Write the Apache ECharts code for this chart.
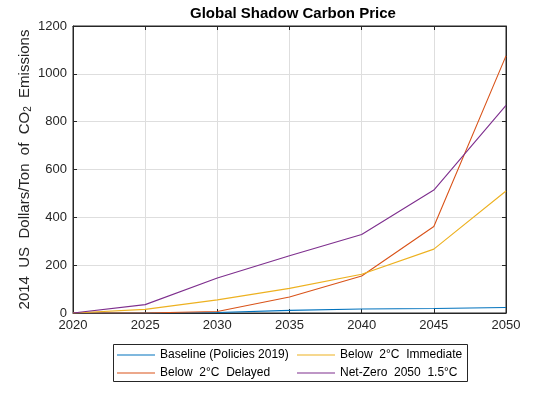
<!DOCTYPE html>
<html>
<head>
<meta charset="utf-8">
<script src="https://cdn.jsdelivr.net/npm/echarts@6/dist/echarts.min.js"></script>
<style>html,body{margin:0;padding:0;background:#fff}#c{width:560px;height:420px}</style>
</head>
<body>
<div id="c"></div>
<script>
const years = [2020, 2025, 2030, 2035, 2040, 2045, 2050];
const baseline = [0, 0, 2, 11, 17, 19, 23];
const delayed = [0, 0, 6, 67, 155, 362, 1075];
const immediate = [0, 15, 55, 103, 162, 267, 510];
const netzero = [0, 35, 146, 239, 328, 514, 868];
const seriesNames = ['Baseline (Policies 2019)', 'Below  2°C  Delayed', 'Below  2°C  Immediate', 'Net-Zero  2050  1.5°C'];
const colors = ['#0072BD', '#D95319', '#EDB120', '#7E2F8E'];
const yTicks = [0, 200, 400, 600, 800, 1000, 1200];

const pairs = v => years.map((y, i) => [y, v[i]]);
const allData = [baseline, delayed, immediate, netzero];

const font = 'Liberation Sans, Arial, Helvetica, sans-serif';
const axisCol = '#262626';
const chart = echarts.init(document.getElementById('c'), null, {renderer: 'canvas'});

const grid = {left: 73, right: 54, top: 26, bottom: 107, show: true, borderColor: axisCol, borderWidth: 1, containLabel: false};

const xBase = {
  type: 'value', min: 2020, max: 2050, interval: 5,
  axisLine: {show: true, onZero: false, lineStyle: {color: axisCol, width: 1}},
  axisTick: {show: true, inside: true, length: 4, lineStyle: {color: axisCol}},
};
const yBase = {
  type: 'value', min: 0, max: 1200, interval: 200,
  axisLine: {show: true, onZero: false, lineStyle: {color: axisCol, width: 1}},
  axisTick: {show: true, inside: true, length: 4, lineStyle: {color: axisCol}},
};

// legend placement: [left, top] per series (column-major like the reference)
const legendPos = [[117, 349], [117, 367], [297, 349], [297, 367]];

chart.setOption({
  animation: false,
  color: colors,
  title: {
    text: 'Global Shadow Carbon Price',
    left: 190, top: 6, padding: 0,
    textStyle: {fontFamily: font, fontSize: 15, fontWeight: 'bold', color: '#000'}
  },
  grid: grid,
  xAxis: [
    Object.assign({}, xBase, {
      position: 'bottom',
      axisLabel: {show: true, color: axisCol, fontFamily: font, fontSize: 13, margin: 6, formatter: v => String(v)},
      splitLine: {show: true, lineStyle: {color: '#dedede', width: 1}}
    }),
    Object.assign({}, xBase, {
      position: 'top',
      axisLabel: {show: false},
      splitLine: {show: false}
    })
  ],
  yAxis: [
    Object.assign({}, yBase, {
      position: 'left',
      axisLabel: {show: true, color: axisCol, fontFamily: font, fontSize: 13, margin: 6,
        formatter: v => yTicks.includes(v) ? String(v) : ''},
      splitLine: {show: true, lineStyle: {color: '#dedede', width: 1}},
      name: '2014  US  Dollars/Ton  of  CO{sub|2}  Emissions',
      nameLocation: 'middle',
      nameGap: 40,
      nameMoveOverlap: false,
      nameTextStyle: {
        color: axisCol, fontFamily: font, fontSize: 15,
        rich: {sub: {fontFamily: font, fontSize: 10, color: axisCol, verticalAlign: 'bottom', padding: [6, 0, 0, 0]}}
      }
    }),
    Object.assign({}, yBase, {
      position: 'right',
      axisLabel: {show: false},
      splitLine: {show: false}
    })
  ],
  legend: seriesNames.map((n, i) => ({
    orient: 'vertical', left: legendPos[i][0], top: legendPos[i][1], padding: 0,
    icon: 'rect', itemWidth: 38, itemHeight: 1.2, itemGap: 0,
    data: [n],
    textStyle: {fontFamily: font, fontSize: 12, color: '#000'}
  })),
  graphic: [{
    type: 'rect', left: 113, top: 344,
    shape: {width: 354, height: 37},
    style: {fill: '#fff', stroke: axisCol, lineWidth: 1},
    z: -1
  }],
  series: allData.map((d, i) => ({
    name: seriesNames[i],
    type: 'line',
    xAxisIndex: 0, yAxisIndex: 0,
    data: pairs(d),
    symbol: 'none',
    lineStyle: {width: 1.1, color: colors[i]},
    itemStyle: {color: colors[i]},
    z: 3
  }))
});
</script>
</body>
</html>
